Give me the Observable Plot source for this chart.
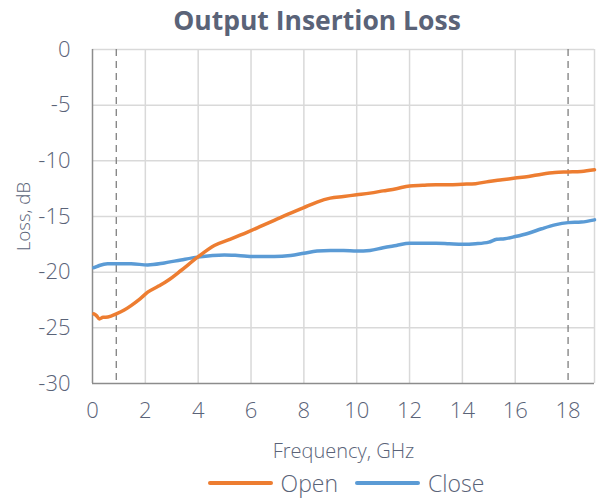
<!DOCTYPE html>
<html>
<head>
<meta charset="utf-8">
<script src="https://cdn.jsdelivr.net/npm/d3@7"></script>
<script src="https://cdn.jsdelivr.net/npm/@observablehq/plot@0.6"></script>
<style>
  html, body { margin: 0; padding: 0; background: #fff; width: 600px; height: 499px; overflow: hidden; }
  body { font-family: "Open Sans", sans-serif; color: #5a6378; }
  #title { height: 40px; line-height: 40px; text-align: center; font-weight: bold; font-size: 26.5px; padding-left: 34px; }
  #chart svg { overflow: visible; display: block; }
  #legend { display: flex; justify-content: center; align-items: center; gap: 17px; font-size: 23px; font-weight: 300; height: 30px; line-height: 30px; padding-left: 92px; margin-top: 3px; }
  .item { display: flex; align-items: center; gap: 8px; }
  .sw { width: 65px; height: 4px; border-radius: 2px; }
</style>
</head>
<body>
<div id="title">Output Insertion Loss</div>
<div id="chart"></div>
<div id="legend"></div>
<script>
const seriesNames = ["Open", "Close"];
const seriesColors = ["#ED7D31", "#5B9BD5"];

const openFreq = [0.05, 0.15, 0.26, 0.4, 0.5, 0.7, 0.9, 1.2, 1.46, 1.8, 2.09, 2.5, 2.85, 3.35, 3.98, 4.61, 5.2, 5.87, 6.4, 6.88, 7.5, 8.0, 8.5, 9.0, 9.5, 10.0, 10.5, 11.0, 11.5, 12.0, 12.5, 13.0, 13.5, 14.0, 14.5, 15.0, 15.5, 16.0, 16.5, 17.0, 17.5, 18.0, 18.5, 19.0];
const openLoss = [-23.75, -23.9, -24.2, -24.05, -24.05, -23.95, -23.75, -23.4, -23.0, -22.4, -21.8, -21.25, -20.75, -19.85, -18.65, -17.6, -17.05, -16.4, -15.85, -15.35, -14.7, -14.2, -13.7, -13.35, -13.2, -13.05, -12.9, -12.7, -12.5, -12.25, -12.2, -12.15, -12.15, -12.1, -12.05, -11.85, -11.7, -11.55, -11.4, -11.2, -11.05, -11.0, -10.95, -10.8];

const closeFreq = [0.05, 0.15, 0.26, 0.57, 1.0, 1.46, 2.09, 2.72, 3.35, 3.98, 4.99, 5.5, 6.12, 6.88, 7.5, 8.0, 8.5, 9.0, 9.5, 10.0, 10.5, 11.0, 11.5, 12.0, 12.5, 13.0, 13.5, 14.0, 14.5, 15.0, 15.3, 15.6, 16.0, 16.5, 17.0, 17.5, 18.0, 18.5, 19.0];
const closeLoss = [-19.6, -19.5, -19.4, -19.25, -19.25, -19.25, -19.35, -19.17, -18.9, -18.65, -18.45, -18.5, -18.6, -18.6, -18.5, -18.3, -18.1, -18.05, -18.05, -18.1, -18.05, -17.8, -17.6, -17.4, -17.4, -17.4, -17.45, -17.5, -17.45, -17.3, -17.05, -17.0, -16.8, -16.5, -16.1, -15.75, -15.55, -15.5, -15.3];

const xTicks = [0, 2, 4, 6, 8, 10, 12, 14, 16, 18];
const yTicks = [0, -5, -10, -15, -20, -25, -30];
const markerFreqs = [0.9, 18];

const openData = openFreq.map((f, i) => ({f, v: openLoss[i]}));
const closeData = closeFreq.map((f, i) => ({f, v: closeLoss[i]}));

const txt = "#5a6378";
const chart = Plot.plot({
  width: 600,
  height: 425,
  marginTop: 9,
  marginLeft: 92,
  marginRight: 6,
  marginBottom: 82,
  style: {fontFamily: "Open Sans, sans-serif", fontSize: "22px", fontWeight: 300, color: txt, background: "white", overflow: "visible"},
  x: {domain: [0, 19]},
  y: {domain: [-30, 0]},
  marks: [
    Plot.ruleX([2, 4, 6, 8, 10, 12, 14, 16, 19], {stroke: "#d9d9d9", strokeWidth: 1.5}),
    Plot.ruleY([-5, -10, -15, -20, -25, 0], {stroke: "#d9d9d9", strokeWidth: 1.5}),
    Plot.ruleX(markerFreqs, {stroke: "#7f7f7f", strokeWidth: 1.3, strokeDasharray: "7,5"}),
    Plot.ruleX([0], {stroke: "#8c8c8c", strokeWidth: 1.5}),
    Plot.ruleY([-30], {stroke: "#8c8c8c", strokeWidth: 1.5}),
    Plot.axisX({ticks: xTicks, tickFormat: d => String(d), tickSize: 0, tickPadding: 19, fontSize: 22, label: "Frequency, GHz", labelAnchor: "center", labelArrow: "none", labelOffset: 74, fill: txt}),
    Plot.axisY({ticks: yTicks, tickFormat: d => String(d), tickSize: 0, tickPadding: 22, fontSize: 22, label: "Loss, dB", labelAnchor: "center", labelArrow: "none", labelOffset: 76, fill: txt}),
    Plot.line(closeData, {x: "f", y: "v", stroke: seriesColors[1], strokeWidth: 3.5, curve: "monotone-x"}),
    Plot.line(openData, {x: "f", y: "v", stroke: seriesColors[0], strokeWidth: 3.5, curve: "monotone-x"})
  ]
});
document.getElementById("chart").appendChild(chart);
d3.select(chart).selectAll("[aria-label='x-axis label'] text").style("font-size", "20px");
d3.select(chart).selectAll("[aria-label='y-axis label'] text").style("font-size", "18.5px");

const legend = document.getElementById("legend");
seriesNames.forEach((n, i) => {
  const it = document.createElement("div");
  it.className = "item";
  it.innerHTML = `<div class="sw" style="background:${seriesColors[i]}"></div><span>${n}</span>`;
  legend.appendChild(it);
});
</script>
</body>
</html>
